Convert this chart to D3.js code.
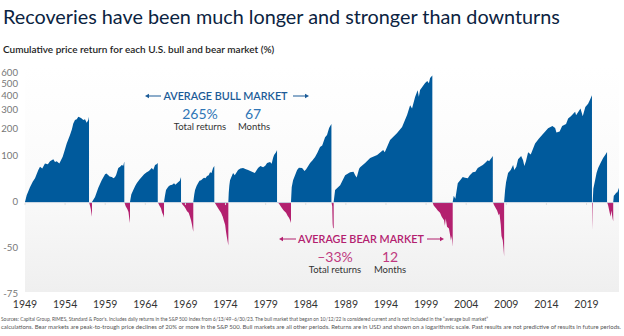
<!DOCTYPE html>
<html>
<head>
<meta charset="utf-8">
<script src="https://cdn.jsdelivr.net/npm/d3@7"></script>
<style>
  body { margin: 0; background: #fff; }
  svg { display: block; font-family: "Lato", "Noto Sans", sans-serif; }
</style>
</head>
<body>
<svg id="chart" width="624" height="336"></svg>
<script>
// [decimal year, cumulative return %]
const bull1949 = [[1949.45,0],[1949.66,11],[1950.07,25],[1950.41,36],[1950.70,43],[1951.11,62],[1951.32,70],[1951.6,66],[1951.94,79],[1952.3,77],[1952.57,85],[1952.98,91],[1953.19,83],[1953.40,85],[1953.73,79],[1954.15,98],[1954.4,118],[1954.65,142],[1955.06,175],[1955.3,200],[1955.47,227],[1955.68,244],[1955.90,248],[1956.10,262],[1956.31,258],[1956.52,253],[1956.72,244],[1956.93,248],[1957.14,230],[1957.34,244],[1957.43,262]];
const bear1957 = [[1957.43,0],[1957.55,-5],[1957.65,-10],[1957.72,-15],[1957.80,-20]];
const bull1957 = [[1957.80,0],[1958.18,8],[1958.59,24],[1959.01,39],[1959.43,52],[1959.6,54],[1959.84,50],[1960.0,47],[1960.26,46],[1960.5,43],[1960.67,46],[1960.8,50],[1961.08,67],[1961.3,70],[1961.51,75],[1961.7,73],[1961.83,84]];
const bear1961 = [[1961.83,0],[1962.0,-6],[1962.2,-10],[1962.35,-14],[1962.45,-22],[1962.54,-27]];
const bull1962 = [[1962.54,0],[1962.7,12],[1962.95,20],[1963.2,28],[1963.38,33],[1963.7,40],[1964.0,46],[1964.3,52],[1964.62,57],[1964.9,60],[1965.25,67],[1965.45,63],[1965.66,75],[1965.85,77],[1966.0,80]];
const bear1966 = [[1966.0,0],[1966.2,-5],[1966.4,-9],[1966.55,-15],[1966.7,-18],[1966.78,-21]];
const bull1966 = [[1966.78,0],[1966.9,10],[1967.03,20],[1967.3,26],[1967.53,29],[1967.8,30],[1968.03,33],[1968.2,30],[1968.53,35],[1968.75,38],[1968.90,46]];
const bear1968 = [[1968.90,0],[1969.1,-4],[1969.28,-6],[1969.45,-9],[1969.65,-13],[1969.85,-15],[1970.02,-20],[1970.15,-24],[1970.27,-29],[1970.35,-33],[1970.43,-36]];
const bull1970 = [[1970.43,0],[1970.55,12],[1970.65,20],[1970.85,28],[1971.02,33],[1971.2,38],[1971.40,39],[1971.6,42],[1971.77,44],[1971.95,43],[1972.14,48],[1972.35,50],[1972.52,57],[1972.7,55],[1972.89,67],[1973.05,72]];
const bear1973 = [[1973.05,0],[1973.2,-3],[1973.52,-9],[1973.7,-12],[1973.89,-15],[1974.1,-20],[1974.26,-25],[1974.4,-29],[1974.51,-36],[1974.64,-42],[1974.80,-48]];
const bull1974 = [[1974.80,0],[1974.85,15],[1974.92,28],[1975.01,39],[1975.39,55],[1975.6,50],[1976.01,62],[1976.3,66],[1976.63,67],[1977.0,64],[1977.26,62],[1977.88,57],[1978.1,55],[1978.50,67],[1978.8,72],[1979.13,69],[1979.4,73],[1979.63,80],[1980.0,83],[1980.2,78],[1980.37,94],[1980.5,103],[1980.75,112],[1980.87,119]];
const bear1980 = [[1980.87,0],[1981.1,-2],[1981.49,-9],[1981.7,-12],[1981.99,-15],[1982.2,-19],[1982.36,-21],[1982.5,-24],[1982.61,-27]];
const bull1982 = [[1982.61,0],[1982.7,25],[1982.87,39],[1983.37,62],[1983.6,68],[1983.99,67],[1984.3,60],[1984.5,64],[1984.99,80],[1985.3,88],[1985.61,97],[1985.9,110],[1986.23,129],[1986.5,135],[1986.86,166],[1987.1,175],[1987.36,205],[1987.5,215],[1987.65,224]];
const bear1987 = [[1987.65,0],[1987.75,-6],[1987.80,-28],[1987.85,-32],[1987.93,-33]];
const bull1987 = [[1987.93,0],[1988.11,20],[1988.74,29],[1989.36,50],[1989.98,57],[1990.4,58],[1990.61,50],[1990.8,45],[1991.1,65],[1991.23,69],[1991.85,80],[1992.48,94],[1993.35,103],[1994.10,119],[1994.3,112],[1994.96,155],[1995.84,183],[1996.46,210],[1997.08,271],[1997.46,331],[1997.7,310],[1998.08,387],[1998.4,440],[1998.55,390],[1998.70,441],[1999.33,501],[1999.6,520],[1999.8,500],[1999.95,548],[2000.23,575]];
const bear2000 = [[2000.23,0],[2000.4,-5],[2000.69,-9],[2000.9,-12],[2001.19,-15],[2001.4,-20],[2001.69,-24],[2001.8,-30],[2001.9,-22],[2002.06,-31],[2002.3,-33],[2002.44,-39],[2002.55,-44],[2002.65,-40],[2002.77,-49]];
const bull2002 = [[2002.77,0],[2002.9,10],[2003.1,5],[2003.40,33],[2003.7,39],[2004.02,46],[2004.3,44],[2004.65,43],[2004.9,50],[2005.27,57],[2005.6,58],[2005.89,67],[2006.3,72],[2006.52,75],[2006.8,80],[2007.14,88],[2007.3,85],[2007.6,94],[2007.77,100]];
const bear2007 = [[2007.77,0],[2007.9,-4],[2008.14,-9],[2008.3,-12],[2008.51,-18],[2008.6,-16],[2008.76,-29],[2008.85,-40],[2009.01,-44],[2009.1,-50],[2009.18,-56]];
const bull2009 = [[2009.18,0],[2009.3,20],[2009.42,35],[2009.67,55],[2010.0,62],[2010.30,75],[2010.45,62],[2010.7,70],[2010.92,91],[2011.3,100],[2011.54,88],[2011.7,72],[2011.9,85],[2012.17,112],[2012.5,105],[2013.04,142],[2013.5,160],[2013.91,175],[2014.3,190],[2014.66,204],[2015.2,215],[2015.54,205],[2015.7,185],[2016.1,190],[2016.41,215],[2016.9,225],[2017.16,253],[2017.5,265],[2018.03,290],[2018.15,270],[2018.7,310],[2018.98,265],[2019.3,320],[2019.65,340],[2019.9,370],[2020.13,400]];
const bear2020 = [[2020.13,0],[2020.16,-10],[2020.19,-25],[2020.22,-34]];
const bull2020 = [[2020.22,0],[2020.3,22],[2020.52,39],[2020.7,55],[2020.9,67],[2021.2,80],[2021.52,94],[2021.8,104],[2022.01,113]];
const bear2022 = [[2022.01,0],[2022.15,-5],[2022.3,-13],[2022.45,-20],[2022.55,-12],[2022.7,-22],[2022.78,-25]];
const bull2022 = [[2022.78,0],[2022.85,10],[2023.0,12],[2023.15,15],[2023.3,16],[2023.5,24]];

const bullMarkets = [bull1949, bull1957, bull1962, bull1966, bull1970, bull1974, bull1982, bull1987, bull2002, bull2009, bull2020, bull2022];
const bearMarkets = [bear1957, bear1961, bear1966, bear1968, bear1973, bear1980, bear1987, bear2000, bear2007, bear2020, bear2022];

const yTicks = [600, 500, 400, 300, 200, 100, 0, -50, -75];
const xTickYears = [1949, 1954, 1959, 1964, 1969, 1974, 1979, 1984, 1989, 1994, 1999, 2004, 2009, 2014, 2019];

const startYear = 1949.45, endYear = 2023.5;
const blue = "#005a9c", magenta = "#b3206f";

const svg = d3.select("#chart");

const x = d3.scaleLinear().domain([startYear, endYear]).range([25, 619]);
// log scale on growth multiple (1 + r)
const yLog = d3.scaleLog().domain([0.25, 7]).range([294, 73]);
const y = r => yLog(1 + r / 100);

// plot background gradient
const defs = svg.append("defs");
const grad = defs.append("linearGradient").attr("id", "bg").attr("x1", 0).attr("y1", 0).attr("x2", 0).attr("y2", 1);
grad.append("stop").attr("offset", "0%").attr("stop-color", "#ffffff");
grad.append("stop").attr("offset", "55%").attr("stop-color", "#fafafa");
grad.append("stop").attr("offset", "100%").attr("stop-color", "#efefef");
svg.append("rect")
  .attr("x", x(startYear)).attr("y", y(600) - 6)
  .attr("width", x(endYear) - x(startYear)).attr("height", y(-75) - y(600) + 4)
  .attr("fill", "url(#bg)");

const area = d3.area()
  .x(d => x(d[0]))
  .y0(y(0))
  .y1(d => y(d[1]));

svg.append("g").selectAll("path")
  .data(bullMarkets)
  .enter().append("path")
  .attr("d", area)
  .attr("fill", blue);

svg.append("g").selectAll("path")
  .data(bearMarkets)
  .enter().append("path")
  .attr("d", area)
  .attr("fill", magenta);

// zero line and small ticks
svg.append("line")
  .attr("x1", x(startYear)).attr("x2", x(endYear))
  .attr("y1", y(0) + 0.5).attr("y2", y(0) + 0.5)
  .attr("stroke", "#c9d5e2").attr("stroke-width", 1);

const frac = startYear - Math.floor(startYear);
svg.append("g").selectAll("line")
  .data(xTickYears)
  .enter().append("line")
  .attr("x1", d => x(d + frac)).attr("x2", d => x(d + frac))
  .attr("y1", y(0) + 1).attr("y2", y(0) + 3)
  .attr("stroke", "#dddddd");

// y axis labels
svg.append("g").selectAll("text")
  .data(yTicks)
  .enter().append("text")
  .attr("x", 18)
  .attr("y", d => y(d) + 3.3)
  .attr("text-anchor", "end")
  .attr("font-size", 9.6)
  .attr("fill", "#777")
  .text(d => d);

// x axis labels
svg.append("g").selectAll("text")
  .data(xTickYears)
  .enter().append("text")
  .attr("x", d => x(d + frac))
  .attr("y", 308)
  .attr("text-anchor", "middle")
  .attr("font-size", 10.5)
  .attr("fill", "#333")
  .text(d => d);

// title and subtitle
svg.append("text")
  .attr("x", 3).attr("y", 24)
  .attr("font-size", 19.8)
  .attr("fill", "#0b2341")
  .text("Recoveries have been much longer and stronger than downturns");

svg.append("text")
  .attr("x", 3).attr("y", 53)
  .attr("font-size", 10)
  .attr("font-weight", 600)
  .attr("fill", "#1e1e1e")
  .text("Cumulative price return for each U.S. bull and bear market (%)");

// arrows
function arrow(x1, x2, yy, color) {
  const dir = Math.sign(x2 - x1);
  svg.append("line")
    .attr("x1", x1).attr("x2", x2 - dir * 3)
    .attr("y1", yy).attr("y2", yy)
    .attr("stroke", color).attr("stroke-width", 1);
  svg.append("path")
    .attr("d", `M${x2},${yy}L${x2 - dir * 4},${yy - 2.2}L${x2 - dir * 4},${yy + 2.2}Z`)
    .attr("fill", color);
}

// bull annotation
const bullText = "#1b5b97", bullNum = "#2e75b6";
arrow(161, 145, 96, bullText);
arrow(293, 309, 96, bullText);
svg.append("text").attr("x", 225.5).attr("y", 100)
  .attr("text-anchor", "middle").attr("font-size", 10.8).attr("font-weight", 600)
  .attr("fill", bullText).text("AVERAGE BULL MARKET");
svg.append("text").attr("x", 200).attr("y", 118.5)
  .attr("text-anchor", "middle").attr("font-size", 14).attr("fill", bullNum).text("265%");
svg.append("text").attr("x", 200).attr("y", 130)
  .attr("text-anchor", "middle").attr("font-size", 9.5).attr("fill", "#333").text("Total returns");
svg.append("text").attr("x", 253).attr("y", 118.5)
  .attr("text-anchor", "middle").attr("font-size", 14).attr("fill", bullNum).text("67");
svg.append("text").attr("x", 254).attr("y", 130)
  .attr("text-anchor", "middle").attr("font-size", 9.5).attr("fill", "#333").text("Months");

// bear annotation
const bearText = "#b3206f", bearNum = "#c0397f";
arrow(296, 279, 239, bearText);
arrow(427, 444, 239, bearText);
svg.append("text").attr("x", 361).attr("y", 243)
  .attr("text-anchor", "middle").attr("font-size", 10.8).attr("font-weight", 600)
  .attr("fill", bearText).text("AVERAGE BEAR MARKET");
svg.append("text").attr("x", 335).attr("y", 262)
  .attr("text-anchor", "middle").attr("font-size", 14).attr("fill", bearNum).text("–33%");
svg.append("text").attr("x", 335).attr("y", 273)
  .attr("text-anchor", "middle").attr("font-size", 9.5).attr("fill", "#333").text("Total returns");
svg.append("text").attr("x", 390).attr("y", 262)
  .attr("text-anchor", "middle").attr("font-size", 14).attr("fill", bearNum).text("12");
svg.append("text").attr("x", 390).attr("y", 273)
  .attr("text-anchor", "middle").attr("font-size", 9.5).attr("fill", "#333").text("Months");

// footnote
const notes = [
  "Sources: Capital Group, RIMES, Standard & Poor's. Includes daily returns in the S&P 500 Index from 6/13/49–6/30/23. The bull market that began on 10/12/22 is considered current and is not included in the \u201caverage bull market\u201d",
  "calculations. Bear markets are peak-to-trough price declines of 20% or more in the S&P 500. Bull markets are all other periods. Returns are in USD and shown on a logarithmic scale. Past results are not predictive of results in future periods."
];
const noteWidths = [487, 620];
svg.append("g").selectAll("text")
  .data(notes)
  .enter().append("text")
  .attr("x", 1)
  .attr("y", (d, i) => 320.5 + i * 8.5)
  .attr("font-size", 5.9)
  .attr("fill", "#555")
  .attr("textLength", (d, i) => noteWidths[i])
  .attr("lengthAdjust", "spacingAndGlyphs")
  .text(d => d);
</script>
</body>
</html>
